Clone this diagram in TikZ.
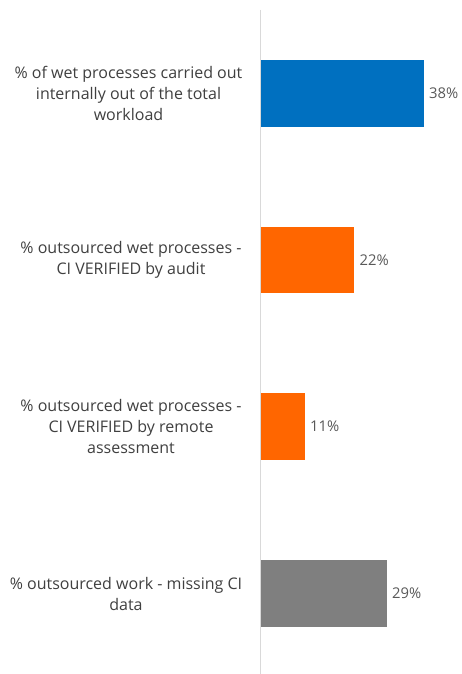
\documentclass[tikz,border=0pt]{standalone}
\usepackage{fontspec}
\setmainfont{Open Sans}
\begin{document}
\begin{tikzpicture}[x=1pt,y=-1pt,
  lbl/.style={align=center,text=black!75,font=\fontsize{16}{21}\selectfont,inner sep=0pt},
  val/.style={anchor=west,text=black!65,font=\fontsize{14.8}{17}\selectfont,inner sep=0pt},
  barbox/.style={draw=none}]
\useasboundingbox (0,0) rectangle (462,674);
\fill[white] (0,0) rectangle (462,674);
\definecolor{cblue}{HTML}{0070C0}
\definecolor{corange}{HTML}{FF6600}
\definecolor{cgray}{HTML}{7F7F7F}
\coordinate (axtop) at (260,10);
\coordinate (axbot) at (260,674);
\draw[black!15,line width=1pt] (axtop) -- (axbot);
\fill[cblue] (260.5,60) rectangle (424,127);
\fill[corange] (260.5,226.5) rectangle (354,293);
\fill[corange] (260.5,393) rectangle (305,460);
\fill[cgray] (260.5,560) rectangle (387,627);
\node[val] (v1) at (429,93.5) {38\%};
\node[val] (v2) at (359.5,260) {22\%};
\node[val] (v3) at (310,426.5) {11\%};
\node[val] (v4) at (392,593.5) {29\%};
\node[lbl] (l1) at (128.5,93.5) {\% of wet processes carried out\\internally out of the total\\workload};
\node[lbl] (l2) at (131,260) {\% outsourced wet processes -\\CI VERIFIED by audit};
\node[lbl] (l3) at (131,426.5) {\% outsourced wet processes -\\CI VERIFIED by remote\\assessment};
\node[lbl] (l4) at (126,593.5) {\% outsourced work - missing CI\\data};
\end{tikzpicture}
\end{document}
